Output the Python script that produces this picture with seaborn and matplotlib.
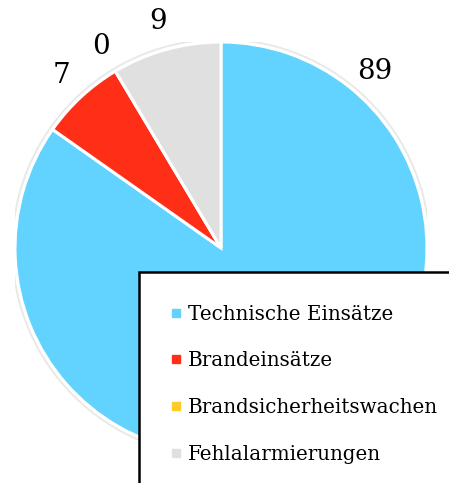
import numpy as np
import matplotlib
matplotlib.use("Agg")
import matplotlib.pyplot as plt
import seaborn as sns
from matplotlib.patches import Rectangle, Circle
from matplotlib.lines import Line2D

categories = ["Technische Einsätze", "Brandeinsätze", "Brandsicherheitswachen", "Fehlalarmierungen"]
values = [89, 7, 0, 9]
colors = ["#62D3FE", "#FF2F17", "#FFCB25", "#E0E0E0"]

sns.set_theme(style="white")
plt.rcParams["font.family"] = ["DejaVu Serif"]

W, H = 449, 483
fig = plt.figure(figsize=(W / 100, H / 100), dpi=100)
fig.patch.set_facecolor("white")

cx, cy, r = 221, H - 248, 206
ax = fig.add_axes([(cx - r) / W, (cy - r) / H, 2 * r / W, 2 * r / H])

# soft outer shadow ring
ax.add_patch(Circle((0, 0), 1.018, facecolor="#e9e9e9", edgecolor="none", zorder=0))
ax.add_patch(Circle((0, 0), 1.008, facecolor="white", edgecolor="none", zorder=0.5))

wedges, texts = ax.pie(
    values, labels=[str(v) for v in values], colors=colors, startangle=90,
    counterclock=False, labeldistance=1.14,
    wedgeprops=dict(edgecolor="white", linewidth=2.2),
    textprops=dict(fontsize=20, color="black", ha="center", va="center"),
)
for t in texts:
    t.set_ha("center")
    t.set_va("center")
# first label sits in the upper right (legend covers its wedge middle)
ang = np.deg2rad(48.8)
texts[0].set_position((1.136 * np.cos(ang), 1.136 * np.sin(ang)))

ax.set_xlim(-1, 1)
ax.set_ylim(-1, 1)
ax.set_aspect("auto")
ax.axis("off")

# legend box (clipped by figure edges)
x0 = 139 / W
y_top = (H - 272) / H
rect = Rectangle((x0, -0.1), 1.0, y_top + 0.1, transform=fig.transFigure,
                 facecolor="white", edgecolor="black", linewidth=1.8, zorder=5)
fig.add_artist(rect)

handles = [Line2D([0], [0], marker="s", linestyle="none", markersize=6,
                  markerfacecolor=c, markeredgecolor=c) for c in colors]
leg = fig.legend(handles, categories, loc="upper left",
                 bbox_to_anchor=(170 / W, (H - 304.5) / H),
                 frameon=False, fontsize=14.3, handlelength=0.6, handletextpad=0.3,
                 labelspacing=1.40, borderpad=0, borderaxespad=0, labelcolor="black")
leg.set_zorder(6)

fig.savefig("out.png", dpi=100)
